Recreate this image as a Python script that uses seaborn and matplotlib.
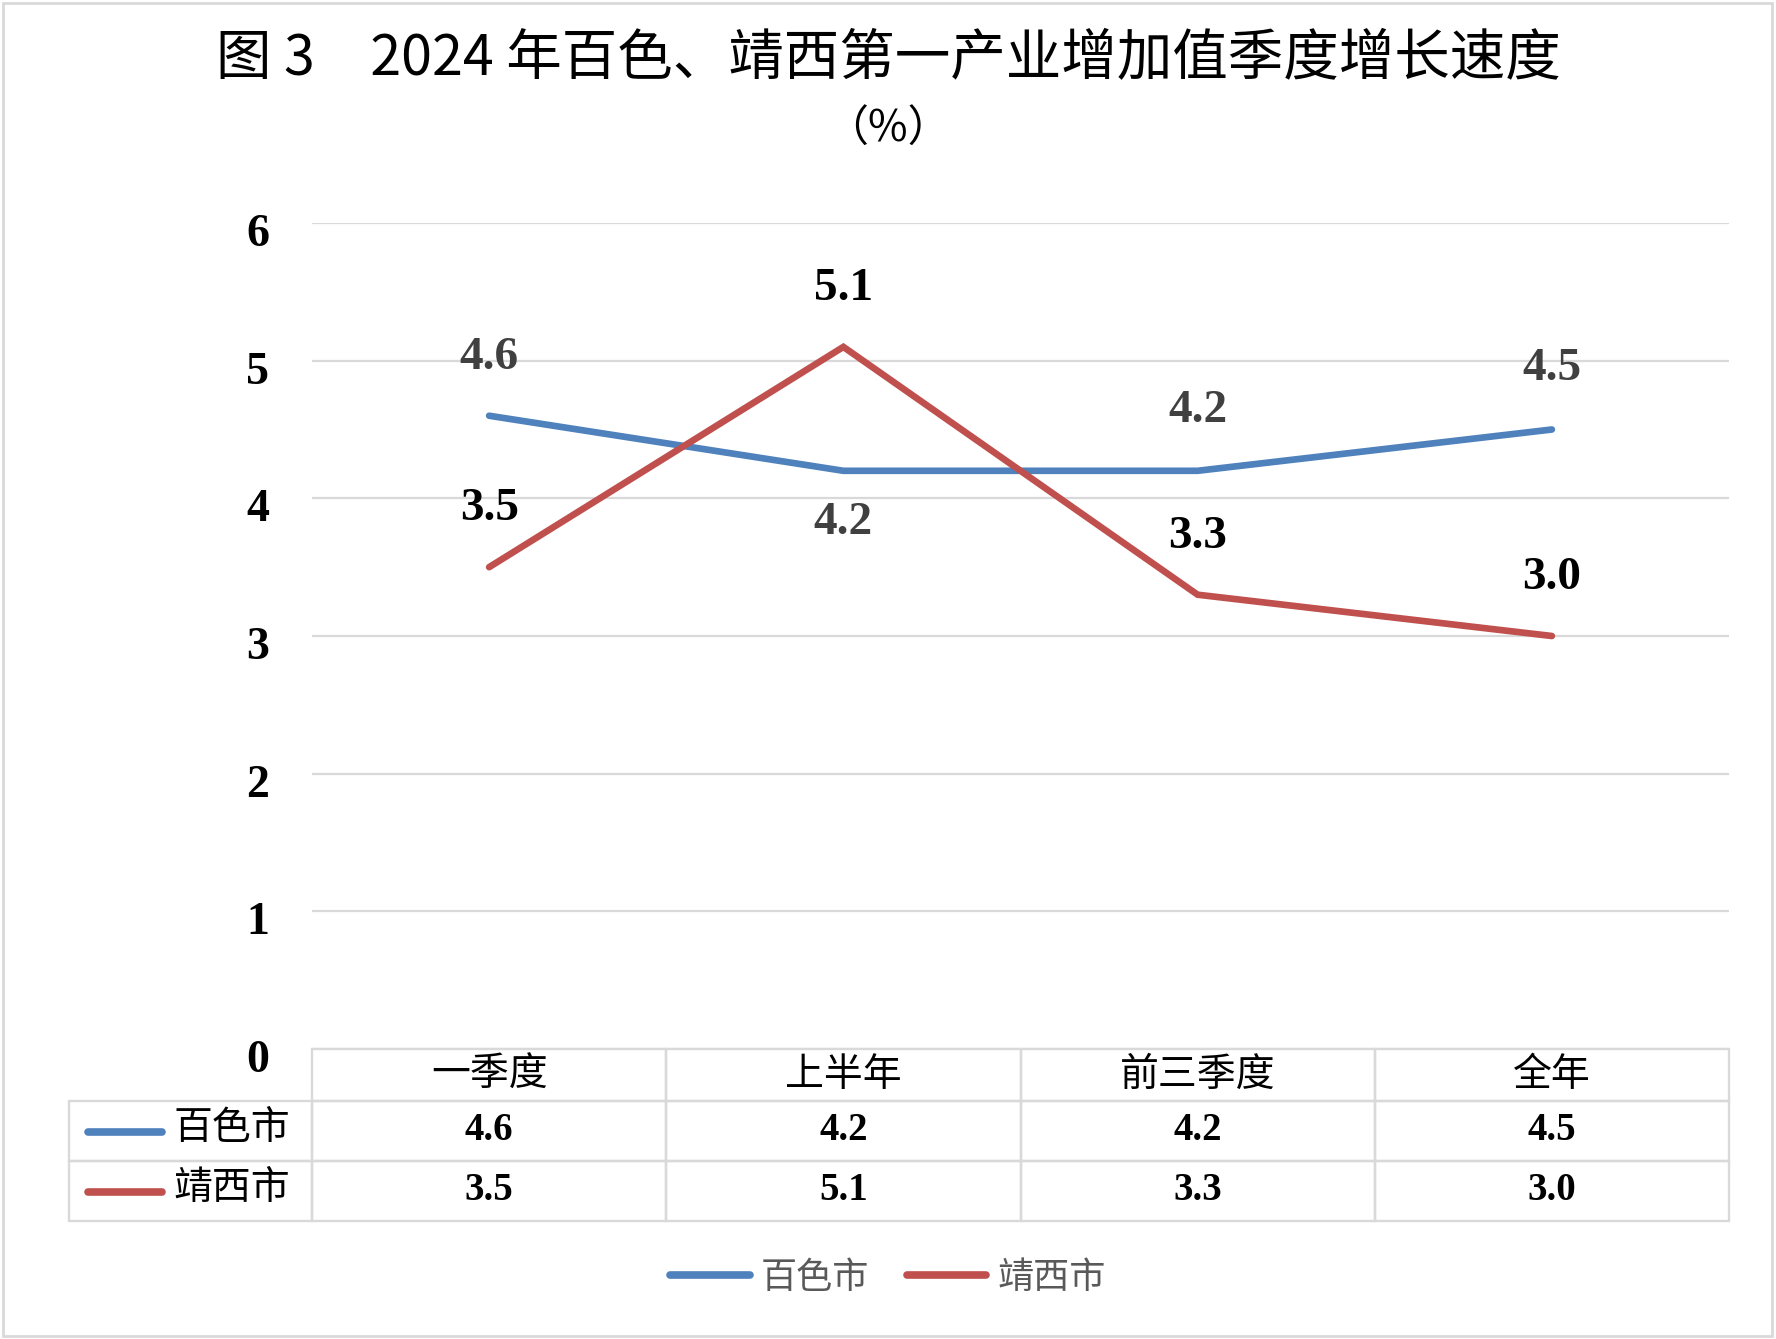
import numpy as np
import pandas as pd
import matplotlib.pyplot as plt
import matplotlib.transforms as mtransforms
from matplotlib.lines import Line2D
from matplotlib.patches import Rectangle
import seaborn as sns

# data
quarters = ["一季度", "上半年", "前三季度", "全年"]
cities = ["百色市", "靖西市"]
baise = [4.6, 4.2, 4.2, 4.5]
jingxi = [3.5, 5.1, 3.3, 3.0]

colors = {"百色市": "#4F81BD", "靖西市": "#C0504D"}
label_colors = {"百色市": "#404040", "靖西市": "black"}
# label offsets in pixels (up is positive)
label_offsets = {"百色市": [58, -52, 60, 60], "靖西市": [58, 58, 58, 58]}

df = pd.DataFrame({
    "季度": quarters * 2,
    "增速": baise + jingxi,
    "城市": [cities[0]] * 4 + [cities[1]] * 4,
})

sns.set_theme(style="white")
plt.rcParams['font.family'] = ['Noto Sans CJK SC', 'DejaVu Sans']
serif = ['Liberation Serif', 'DejaVu Serif']

W, H = 1776, 1339
fig = plt.figure(figsize=(W / 100, H / 100), dpi=100)
ax = fig.add_axes([312 / W, 1 - 1049 / H, 1417 / W, 826 / H])

sns.lineplot(data=df, x="季度", y="增速", hue="城市", palette=colors,
             sort=False, linewidth=4.8, ax=ax, clip_on=False)
for ln in ax.lines:
    ln.set_solid_capstyle("round")
    ln.set_solid_joinstyle("miter")

ax.set_xlim(-0.5, 3.5)
ax.set_ylim(0, 6)
ax.set_yticks(range(0, 7))
ax.set_xticks([])
ax.set_xlabel("")
ax.set_ylabel("")
ax.grid(axis="y", color="#D9D9D9", linewidth=1.6)
ax.grid(axis="x", visible=False)
for s in ax.spines.values():
    s.set_visible(False)
ax.tick_params(axis="y", length=0, pad=31)
shift = mtransforms.ScaledTranslation(0, -7 / 100, fig.dpi_scale_trans)
for t in ax.get_yticklabels():
    t.set_fontfamily(serif)
    t.set_fontweight("bold")
    t.set_fontsize(33)
    t.set_color("black")
    t.set_transform(t.get_transform() + shift)

# data labels
for city, vals in zip(cities, [baise, jingxi]):
    for i, v in enumerate(vals):
        ax.annotate(f"{v:.1f}", (i, v), xytext=(0, label_offsets[city][i]),
                    textcoords="offset pixels", ha="center", va="center",
                    fontsize=34, fontweight="bold", fontfamily=serif,
                    color=label_colors[city], annotation_clip=False)

# legend at bottom
handles, labels = ax.get_legend_handles_labels()
if ax.get_legend() is not None:
    ax.get_legend().remove()
leg = fig.legend(handles, labels, loc="center", bbox_to_anchor=(0.5, 1 - 1278 / H),
                 ncol=2, frameon=False, fontsize=26, handlelength=2.2,
                 handletextpad=0.3, columnspacing=1.05, labelcolor="#595959")
for ln in leg.get_lines():
    ln.set_linewidth(5.5)
    ln.set_solid_capstyle("round")

# data table
cell_text = [[""] + quarters,
             [""] + [f"{v:.1f}" for v in baise],
             [""] + [f"{v:.1f}" for v in jingxi]]
tab = ax.table(cellText=cell_text, cellLoc="center",
               bbox=[(69 - 312) / 1417, -172 / 826, 1660 / 1417, 172 / 826])
tab.auto_set_font_size(False)
col_w = [243] + [354.25] * 4
row_h = [52, 60, 60]
for (r, c), cell in tab.get_celld().items():
    cell.set_width(col_w[c])
    cell.set_height(row_h[r])
    cell.set_edgecolor("#D9D9D9")
    cell.set_linewidth(1.7)
    cell.set_facecolor("none")
    txt = cell.get_text()
    if r == 0:
        txt.set_fontsize(28)
        txt.set_fontweight("light")
        txt.set_color("black")
    else:
        txt.set_fontsize(28)
        txt.set_fontfamily(serif)
        txt.set_fontweight("bold")
        txt.set_color("black")
tab[0, 0].visible_edges = ""

# row labels with legend keys
for city, yc in zip(cities, [1128, 1188]):
    fig.add_artist(Line2D([88 / W, 162 / W], [1 - (yc + 4) / H] * 2,
                          color=colors[city], linewidth=5.5,
                          solid_capstyle="round", transform=fig.transFigure))
    fig.text(232 / W, 1 - yc / H, city, ha="center", va="center",
             fontsize=28, fontweight="light", color="black")

# title
fig.text(0.5, 1 - 59 / H, "图 3　2024 年百色、靖西第一产业增加值季度增长速度",
         ha="center", va="center", fontsize=40, color="black")
fig.text(0.5, 1 - 130 / H, "（%）", ha="center", va="center",
         fontsize=31, color="black")

# outer frame
fig.patches.append(Rectangle((0.0015, 0.0025), 0.9965, 0.995, transform=fig.transFigure,
                             fill=False, edgecolor="#D9D9D9", linewidth=2))

fig.savefig("out.png", dpi=100)
